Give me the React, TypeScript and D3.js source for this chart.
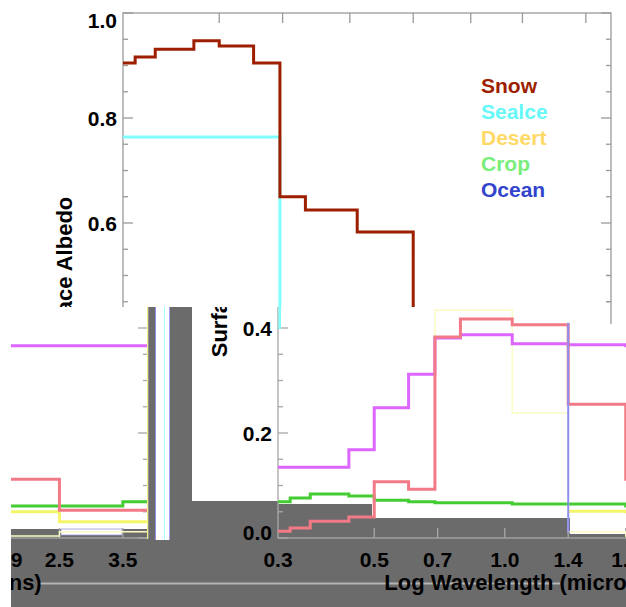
import React from 'react';
import * as d3 from 'd3';

const WIDTH = 626;
const HEIGHT = 607;
const FONT = '"Liberation Sans", Arial, Helvetica, sans-serif';
const GRAY = '#6b6b6b';

// wavelength band edges (microns)
const bandEdges = [0.3, 0.32, 0.356, 0.437, 0.5, 0.6, 0.69, 0.79, 1.04, 1.4, 1.9, 2.5, 3.5, 4.0];
const xTickValues = [0.5, 0.7, 1.0, 1.4, 1.9, 2.5, 3.5];
const xLabelValues = [0.3, 0.5, 0.7, 1.0, 1.4, 1.9, 2.5, 3.5];
const xLabelText = ['0.3', '0.5', '0.7', '1.0', '1.4', '1.9', '2.5', '3.5'];
const yMajorValues = [0, 0.2, 0.4, 0.6, 0.8, 1.0];
const yLabelText = ['0.0', '0.2', '0.4', '0.6', '0.8', '1.0'];
const yMinorValues = [0.05, 0.1, 0.15, 0.25, 0.3, 0.35, 0.45, 0.5, 0.55, 0.65, 0.7, 0.75, 0.85, 0.9, 0.95];

const legendNames = ['Snow', 'Sealce', 'Desert', 'Crop', 'Ocean'];
const legendColors = ['#9e1f00', '#66f8f8', '#ffd966', '#7aee7a', '#3344cc'];

// top panel
const snowAlbedo = [0.905, 0.916, 0.931, 0.947, 0.937, 0.905, 0.65, 0.625, 0.583, 0.3, 0.12, 0.05, 0.03];
const seaIceAlbedo = [0.764, 0.764, 0.764, 0.764, 0.764, 0.764, 0.4, 0.38, 0.35, 0.1, 0.05, 0.03, 0.03];

// shifted panel
const magentaAlbedo = [0.135, 0.135, 0.135, 0.168, 0.248, 0.312, 0.381, 0.387, 0.37, 0.368, 0.366, 0.366, 0.366];
const pinkAlbedo = [0.013, 0.019, 0.032, 0.04, 0.107, 0.093, 0.383, 0.417, 0.406, 0.255, 0.112, 0.053, 0.053];
const greenAlbedo = [0.069, 0.076, 0.084, 0.08, 0.072, 0.069, 0.067, 0.067, 0.065, 0.065, 0.061, 0.061, 0.069];
const yellowAlbedo = [null, null, null, null, null, null, null, null, null, 0.051, 0.05, 0.031, 0.031];
const paleYellowAlbedo = [null, null, null, null, null, 0.093, 0.434, 0.434, 0.238, 0.012, 0.004, 0.012, 0.012];
const ghostWavelength = [1.4];
const ghostAlbedo = [0.41, 0.01];

type Series = { values: (number | null)[]; color: string; width: number };

function stepPoints(values: (number | null)[]) {
  const pts: ([number, number] | null)[] = [];
  values.forEach((v, i) => {
    if (v == null) {
      pts.push(null);
      return;
    }
    pts.push([bandEdges[i], v], [bandEdges[i + 1], v]);
  });
  return pts;
}

function Panel({ dx, series, showLegend, ghost, axisColor }: { dx: number; series: Series[]; showLegend?: boolean; ghost?: boolean; axisColor: string }) {
  const x = d3.scaleLog().domain([0.3, 4.0]).range([123, 611]);
  const y = d3.scaleLinear().domain([0, 1]).range([538, 13]);
  const line = d3
    .line<[number, number] | null>()
    .defined((d) => d != null)
    .x((d) => x((d as [number, number])[0]))
    .y((d) => y((d as [number, number])[1]));
  const [x0, x1] = x.range();
  const [y0, y1] = y.range();
  const clampLabel = (v: number) => Math.min(Math.max(y(v), 20), 532);
  return (
    <g transform={`translate(${dx},0)`}>
      <rect x={x0} y={y1} width={x1 - x0} height={y0 - y1} fill="none" stroke={axisColor} strokeWidth={1.3} />
      {yMajorValues.map((v) => (
        <g key={'ymaj' + v} stroke={axisColor} strokeWidth={1.3}>
          <line x1={x0} x2={x0 + 10} y1={y(v)} y2={y(v)} />
          <line x1={x1} x2={x1 - 10} y1={y(v)} y2={y(v)} />
        </g>
      ))}
      {yMinorValues.map((v) => (
        <g key={'ymin' + v} stroke={axisColor} strokeWidth={1.3}>
          <line x1={x0} x2={x0 + 5} y1={y(v)} y2={y(v)} />
          <line x1={x1} x2={x1 - 5} y1={y(v)} y2={y(v)} />
        </g>
      ))}
      {xTickValues.map((v) => (
        <g key={'xt' + v} stroke={axisColor} strokeWidth={1.3}>
          <line x1={x(v)} x2={x(v)} y1={y1} y2={y1 + 10} />
          <line x1={x(v)} x2={x(v)} y1={y0} y2={y0 - 10} />
        </g>
      ))}
      {series.map((s, i) => (
        <path key={'s' + i} d={line(stepPoints(s.values)) || ''} fill="none" stroke={s.color} strokeWidth={s.width} strokeLinejoin="miter" />
      ))}
      {ghost && (
        <line
          x1={x(ghostWavelength[0])}
          x2={x(ghostWavelength[0])}
          y1={y(ghostAlbedo[0])}
          y2={y(ghostAlbedo[1])}
          stroke="#8f8ff0"
          strokeWidth={2}
        />
      )}
      <g fontFamily={FONT} fontWeight="bold" fill="#000">
        {yMajorValues.map((v, i) => (
          <text key={'yl' + v} x={x0 - 6} y={clampLabel(v) + 7.5} fontSize={21} textAnchor="end">
            {yLabelText[i]}
          </text>
        ))}
        {xLabelValues.map((v, i) => (
          <text key={'xl' + v} x={x(v)} y={567} fontSize={21} textAnchor="middle">
            {xLabelText[i]}
          </text>
        ))}
        <text x={(x0 + x1) / 2} y={590} fontSize={22} textAnchor="middle">
          Log Wavelength (microns)
        </text>
        <text transform={`translate(72,277) rotate(-90)`} fontSize={22} textAnchor="middle">
          Surface Albedo
        </text>
      </g>
      {showLegend && (
        <g fontFamily={FONT} fontWeight="bold" fontSize={21}>
          {legendNames.map((n, i) => (
            <text key={n} x={481} y={93 + 26 * i} fill={legendColors[i]}>
              {n}
            </text>
          ))}
        </g>
      )}
    </g>
  );
}

export default function App() {
  const topSeries: Series[] = [
    { values: seaIceAlbedo, color: '#80ffff', width: 3 },
    { values: snowAlbedo, color: '#9e1f00', width: 3 },
  ];
  const shiftedSeries: Series[] = [
    { values: paleYellowAlbedo, color: '#fbfbc4', width: 1.5 },
    { values: yellowAlbedo, color: '#f5f56a', width: 3 },
    { values: greenAlbedo, color: '#44cc33', width: 3 },
    { values: magentaAlbedo, color: '#dd66ff', width: 3 },
    { values: pinkAlbedo, color: '#f27a86', width: 3 },
  ];
  return (
    <div style={{ position: 'absolute', left: 0, top: 0, width: WIDTH, height: HEIGHT }}>
      <svg width={WIDTH} height={HEIGHT} style={{ display: 'block' }}>
        <defs>
          <clipPath id="topClip">
            <rect x={0} y={0} width={626} height={307} />
            <rect x={275} y={307} width={6} height={22} />
            <rect x={600} y={307} width={14} height={17} />
          </clipPath>
          <clipPath id="leftClip">
            <rect x={11} y={307} width={139} height={300} />
          </clipPath>
          <clipPath id="rightClip">
            <rect x={192} y={307} width={434} height={300} />
          </clipPath>
        </defs>
        <rect x={0} y={0} width={WIDTH} height={HEIGHT} fill="#fff" />

        {/* bottom composite */}
        <rect x={11} y={307} width={615} height={300} fill={GRAY} />
        <line x1={40} x2={560} y1={583.5} y2={583.5} stroke="#b4b4b4" strokeWidth={2} />

        {/* left fragment */}
        <rect x={11} y={307} width={137} height={222} fill="#fff" />
        <rect x={61} y={529} width={61} height={6} fill="#fff" stroke="#9a9ad8" strokeWidth={0.8} />
        <g clipPath="url(#leftClip)">
          <Panel dx={-463} series={shiftedSeries} axisColor="#a8a8a8" />
        </g>
        <line x1={147.5} x2={147.5} y1={307} y2={539} stroke="#f0f080" strokeWidth={1} />

        {/* strip */}
        <rect x={155} y={307} width={15} height={233} fill="#fff" />
        <line x1={155.5} x2={155.5} y1={307} y2={540} stroke="#9090f0" strokeWidth={1} />
        <line x1={164.5} x2={164.5} y1={307} y2={540} stroke="#a0ffff" strokeWidth={1} />
        <line x1={169.5} x2={169.5} y1={307} y2={540} stroke="#a0a0f0" strokeWidth={1} />

        {/* white box behind title */}
        <rect x={192} y={307} width={86} height={194} fill="#fff" />

        {/* right fragment */}
        <rect x={278} y={307} width={348} height={232} fill="#fff" />
        <rect x={276} y={504} width={96} height={35} fill={GRAY} />
        <rect x={372} y={518} width={198} height={21} fill={GRAY} />
        <rect x={570} y={534} width={56} height={5} fill={GRAY} />
        <g clipPath="url(#rightClip)">
          <Panel dx={155} series={shiftedSeries} ghost axisColor="#a8a8a8" />
        </g>

        {/* top panel */}
        <g clipPath="url(#topClip)">
          <Panel dx={0} series={topSeries} showLegend axisColor="#9a9a9a" />
        </g>
      </svg>
    </div>
  );
}
